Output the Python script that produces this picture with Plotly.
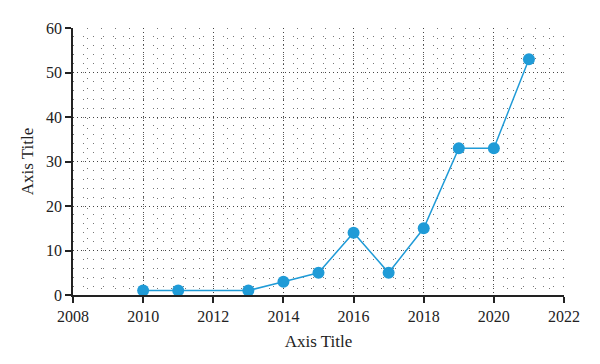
import plotly.graph_objects as go

years = [2010, 2011, 2013, 2014, 2015, 2016, 2017, 2018, 2019, 2020, 2021]
values = [1, 1, 1, 3, 5, 14, 5, 15, 33, 33, 53]
x_ticks = [2008, 2010, 2012, 2014, 2016, 2018, 2020, 2022]
y_ticks = [0, 10, 20, 30, 40, 50, 60]

color = "#1f9bd7"
font = "Liberation Serif"

fig = go.Figure()
fig.add_trace(go.Scatter(
    x=years, y=values, mode="lines+markers",
    line=dict(color=color, width=1.5),
    marker=dict(color=color, size=12),
    showlegend=False,
))

axis_common = dict(
    showline=True, linecolor="#222", linewidth=1.5,
    ticks="outside", ticklen=6, tickwidth=1.5, tickcolor="#222",
    showgrid=True, gridcolor="#444", gridwidth=1, griddash="1px,3px",
    zeroline=False, mirror=False,
    tickfont=dict(family=font, size=16, color="#222"),
)

fig.update_xaxes(
    range=[2008, 2022], tickvals=x_ticks,
    title=dict(text="Axis Title", font=dict(family=font, size=17, color="#222"), standoff=11),
    minor=dict(dtick=0.4, tick0=2008, showgrid=True, gridcolor="#777", gridwidth=1,
               griddash="1px,9px", ticks=""),
    **axis_common,
)
fig.update_yaxes(
    range=[0, 60], tickvals=y_ticks,
    title=dict(text="Axis Title", font=dict(family=font, size=17, color="#222"), standoff=8),
    minor=dict(dtick=2, tick0=0, showgrid=True, gridcolor="#777", gridwidth=1,
               griddash="1px,9px", ticks=""),
    **axis_common,
)

fig.update_layout(
    width=592, height=356,
    margin=dict(l=65, r=36, t=20, b=69),
    paper_bgcolor="white", plot_bgcolor="white",
    font=dict(family=font),
)

fig.write_html("out.html")
